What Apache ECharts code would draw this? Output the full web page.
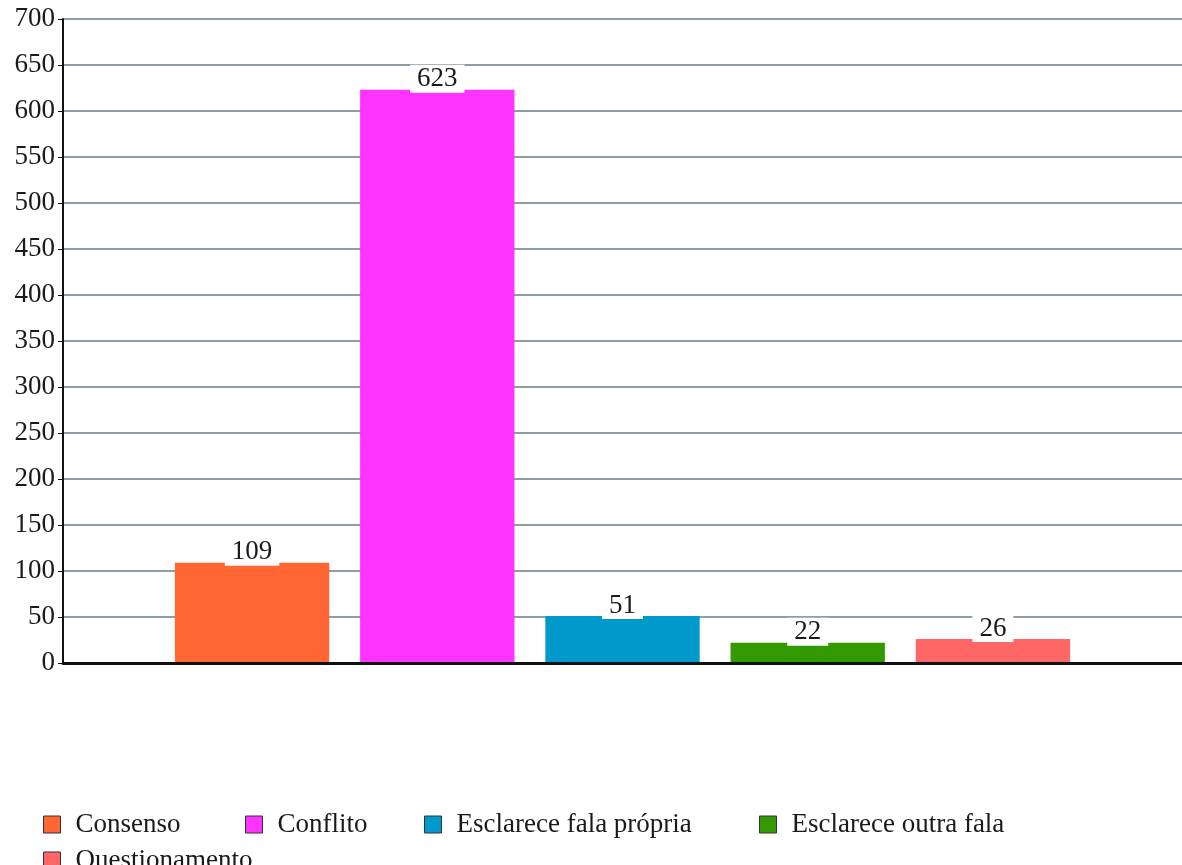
<!DOCTYPE html>
<html>
<head>
<meta charset="utf-8">
<script src="https://cdn.jsdelivr.net/npm/echarts@6/dist/echarts.min.js"></script>
<style>
  html, body { margin: 0; padding: 0; background: #fff; }
  #chart { width: 1182px; height: 865px; }
</style>
</head>
<body>
<div id="chart"></div>
<script>
// Categories and counts
const seriesNames = ['Consenso', 'Conflito', 'Esclarece fala própria', 'Esclarece outra fala', 'Questionamento'];
const counts = [109, 623, 51, 22, 26];
const colors = ['#ff6633', '#ff33ff', '#0099cc', '#339900', '#ff6666'];
const yTicks = { min: 0, max: 700, interval: 50 };

const FONT = '"Liberation Serif", "DejaVu Serif", serif';

// One legend block per series so each entry sits in its own column
const legendSlots = [
  { left: 43, top: 811 },
  { left: 245, top: 811 },
  { left: 424, top: 811 },
  { left: 759, top: 811 },
  { left: 43, top: 847 }
];

const legends = seriesNames.map((name, i) => ({
  data: [name],
  left: legendSlots[i].left,
  top: legendSlots[i].top,
  padding: 0,
  itemWidth: 17,
  itemHeight: 17,
  icon: 'rect',
  itemStyle: { borderColor: '#333', borderWidth: 1 },
  selectedMode: false,
  textStyle: {
    fontFamily: FONT,
    fontSize: 27,
    color: '#1a1a1a',
    padding: [0, 0, 0, 10]
  }
}));

const series = seriesNames.map((name, i) => ({
  name: name,
  type: 'bar',
  data: [counts[i]],
  barGap: '20%',
  barCategoryGap: '20%',
  itemStyle: { color: colors[i] },
  label: {
    show: true,
    position: 'top',
    distance: -3,
    fontFamily: FONT,
    fontSize: 27,
    color: '#1a1a1a',
    backgroundColor: '#ffffff',
    padding: [1, 7, 0, 7]
  }
}));

const chart = echarts.init(document.getElementById('chart'), null, { renderer: 'canvas' });
chart.setOption({
  animation: false,
  backgroundColor: '#ffffff',
  legend: legends,
  grid: { left: 63, right: -1, top: 19, bottom: 202, containLabel: false },
  xAxis: {
    type: 'category',
    data: [''],
    axisLine: { show: true, lineStyle: { color: '#111', width: 3 } },
    axisTick: { show: false },
    axisLabel: { show: false },
    z: 5
  },
  yAxis: {
    type: 'value',
    min: yTicks.min,
    max: yTicks.max,
    interval: yTicks.interval,
    axisLine: { show: true, lineStyle: { color: '#111', width: 2 } },
    axisTick: { show: true, length: 5, lineStyle: { color: '#111', width: 1 } },
    axisLabel: {
      fontFamily: FONT,
      fontSize: 27,
      color: '#1a1a1a',
      margin: 8
    },
    splitLine: { show: true, lineStyle: { color: '#8f9ea6', width: 2 } }
  },
  series: series
});
</script>
</body>
</html>
